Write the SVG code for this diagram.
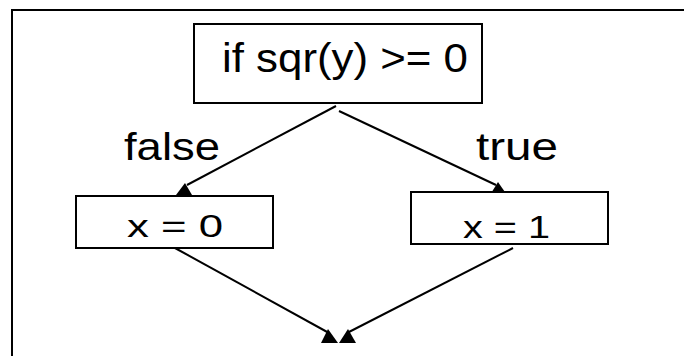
<svg xmlns="http://www.w3.org/2000/svg" width="684" height="356" viewBox="0 0 684 356">
<style>
.box{fill:#fff;stroke:#000;stroke-width:2}
.lbl{font-family:"Comic Sans MS","Liberation Sans",sans-serif;fill:#000}
.edge{stroke:#000;stroke-width:2;fill:none}
.ah{fill:#000;stroke:none}
</style>
<rect x="0" y="0" width="684" height="356" fill="#fff"/>
<path d="M12,356 V10 H684" fill="none" stroke="#000" stroke-width="2"/>
<g id="connectors">
<line class="edge" x1="336" y1="106" x2="187" y2="185"/>
<polygon class="ah" points="185,183 176,195 192,195"/>
<line class="edge" x1="339" y1="111" x2="496" y2="185"/>
<polygon class="ah" points="498,182 490,195 507,195"/>
<line class="edge" x1="175" y1="248" x2="329" y2="333"/>
<polygon class="ah" points="328,329 321,343 338,343"/>
<line class="edge" x1="513" y1="248" x2="347" y2="333"/>
<polygon class="ah" points="348,329 339,343 356,343"/>
<text class="lbl" x="124" y="160" font-size="38" textLength="96" lengthAdjust="spacingAndGlyphs">false</text>
<text class="lbl" x="476" y="160" font-size="38" textLength="82" lengthAdjust="spacingAndGlyphs">true</text>
</g>
<g id="cond">
<rect class="box" x="194" y="24" width="288" height="79"/>
<text class="lbl" x="222" y="72" font-size="40" textLength="246" lengthAdjust="spacingAndGlyphs">if sqr(y) &gt;= 0</text>
</g>
<g id="x0">
<rect class="box" x="76" y="196" width="197" height="52"/>
<text class="lbl" x="127" y="237" font-size="31" textLength="96" lengthAdjust="spacingAndGlyphs">x = 0</text>
</g>
<g id="x1">
<rect class="box" x="411" y="192" width="197" height="52"/>
<text class="lbl" x="463" y="238" font-size="31" textLength="87" lengthAdjust="spacingAndGlyphs">x = 1</text>
</g>
</svg>
